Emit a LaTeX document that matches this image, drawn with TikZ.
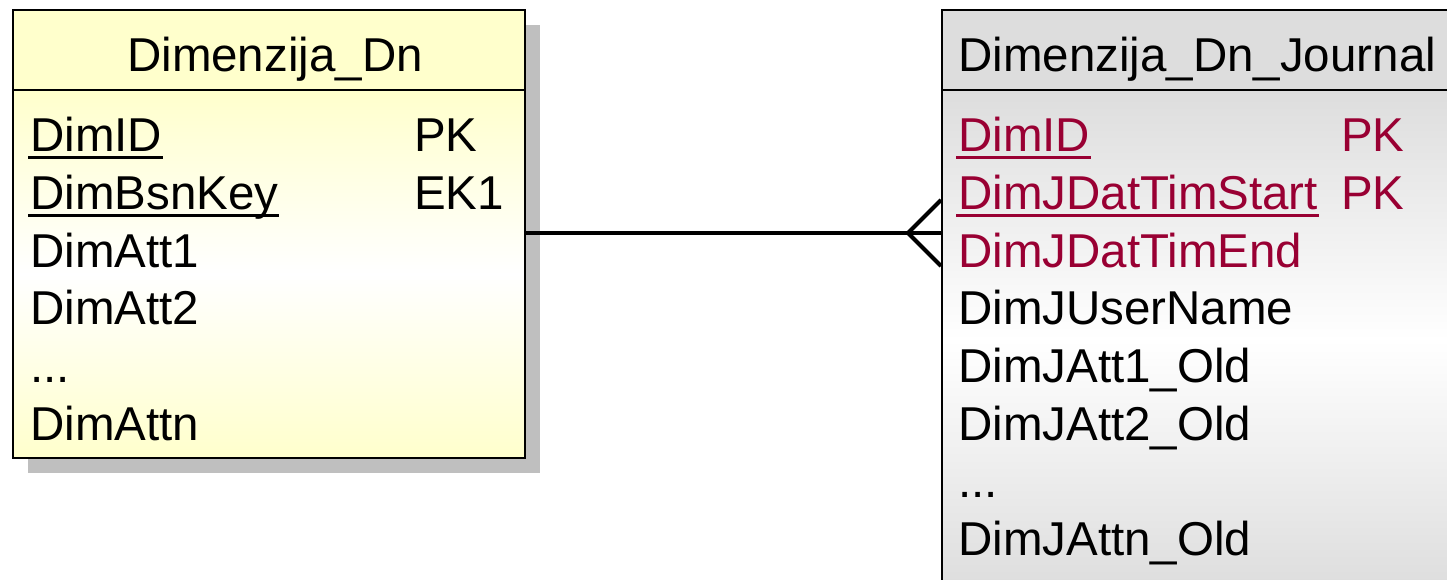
\documentclass[tikz,border=0pt]{standalone}
\usepackage{fontspec}
\setmainfont{Liberation Sans}
\usetikzlibrary{positioning}
\definecolor{keyred}{RGB}{153,0,51}
\definecolor{dnyellow}{RGB}{255,255,204}
\definecolor{jgray}{RGB}{221,221,221}
\newcommand{\keyuline}[1]{\setbox0\hbox{#1}\rlap{\kern-2pt\rule[-7.5pt]{\dimexpr\wd0+3pt\relax}{3pt}}\box0}
\tikzset{
  attr/.style={anchor=base west,inner sep=0pt,font=\fontsize{47.5}{57}\selectfont},
  tablebox/.style={draw=black,line width=2pt,anchor=north west,inner sep=0pt},
  link/.style={line width=4pt}
}

\begin{document}
\begin{tikzpicture}[x=1pt,y=-1pt]
			\useasboundingbox (0,0) rectangle (1447,580);

			% Dimenzija_Dn
			\fill[black!25] (28,25) rectangle (540,473);
			\node[tablebox,fill=dnyellow,minimum width=512pt,minimum height=80pt] (dnhead) at (12,9) {};
			\node[tablebox,top color=dnyellow,bottom color=dnyellow,middle color=white,minimum width=512pt,minimum height=368pt] (dnbody) at (12,89) {};
			\node[attr,anchor=base] (dntitle) at (275,72) {Dimenzija\_Dn};
			\node[attr] (dnid) at (30,152) {\keyuline{DimID}};
			\node[attr] (dnkey) at (30,209.6) {\keyuline{DimBsnKey}};
			\node[attr] (dnatt1) at (30,267.2) {DimAtt1};
			\node[attr] (dnatt2) at (30,324.8) {DimAtt2};
			\node[attr] (dndots) at (30,382.4) {...};
			\node[attr] (dnattn) at (30,440) {DimAttn};
			\node[attr] (dnpk) at (414,152) {PK};
			\node[attr] (dnek) at (414,209.6) {EK1};

			% Dimenzija_Dn_Journal
			\node[tablebox,fill=jgray,minimum width=530pt,minimum height=80pt] (jhead) at (941,9) {};
			\node[tablebox,top color=jgray,bottom color=jgray,middle color=white,minimum width=530pt,minimum height=500pt] (jbody) at (941,89) {};
			\node[attr] (jtitle) at (958,72) {Dimenzija\_Dn\_Journal};
			\begin{scope}[every node/.append style={text=keyred}]
				\node[attr] (jid) at (958,152) {\keyuline{DimID}};
				\node[attr] (jstart) at (958,209.6) {\keyuline{DimJDatTimStart}};
				\node[attr] (jend) at (958,267.2) {DimJDatTimEnd};
				\node[attr] (jpk1) at (1341,152) {PK};
				\node[attr] (jpk2) at (1341,209.6) {PK};
			\end{scope}
			\node[attr] (juser) at (958,324.8) {DimJUserName};
			\node[attr] (jatt1) at (958,382.4) {DimJAtt1\_Old};
			\node[attr] (jatt2) at (958,440) {DimJAtt2\_Old};
			\node[attr] (jdots) at (958,497.6) {...};
			\node[attr] (jattn) at (958,555.2) {DimJAttn\_Old};

			% one to many
			\coordinate (linkL) at (dnbody.east |- 0,233);
			\coordinate (linkR) at (jbody.west |- 0,233);
			\coordinate (fork) at (908,233);
			\draw[link] (linkL) -- (linkR);
			\draw[link] (jbody.west |- 0,200) -- (fork) -- (jbody.west |- 0,266);
		\end{tikzpicture}
\end{document}
